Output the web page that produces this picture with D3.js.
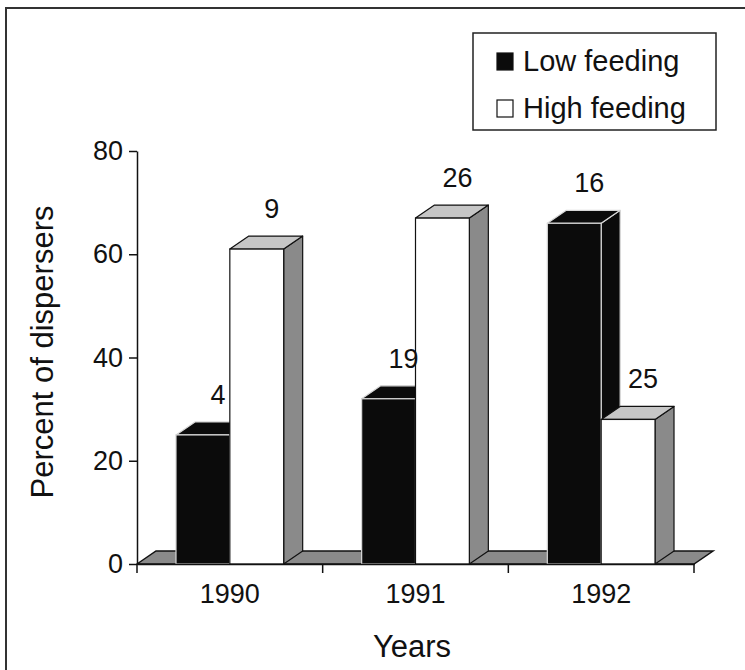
<!DOCTYPE html>
<html>
<head>
<meta charset="utf-8">
<script src="https://cdn.jsdelivr.net/npm/d3@7"></script>
<style>
  body { margin: 0; background: #fff; }
  svg { display: block; font-family: "Liberation Sans", Arial, sans-serif; }
</style>
</head>
<body>
<svg id="svgRoot" width="745" height="670"></svg>
<script>
// values
const years = ["1990", "1991", "1992"]
const seriesNames = ["Low feeding", "High feeding"]
const lowFeeding = [25, 32, 66]
const highFeeding = [61, 67, 28]
const lowN = [4, 19, 16]
const highN = [9, 26, 25]
const yTicks = [0, 20, 40, 60, 80]

let svg = d3.select("#svgRoot")

// 3d depth offset
const dx = 19
const dy = 13

let scale_y = d3.scaleLinear().domain([0, 80]).range([564, 151])
let scale_x = d3.scaleBand().domain(years).range([137, 694]).padding(0)
let bw = scale_x.bandwidth()
let scale_s = d3.scaleBand().domain(seriesNames).range([bw * 0.21, bw * 0.79]).padding(0)

let data = []
years.forEach((yr, i) => {
  data.push({ year: yr, series: "Low feeding", value: lowFeeding[i], n: lowN[i] })
  data.push({ year: yr, series: "High feeding", value: highFeeding[i], n: highN[i] })
})

// outer frame
svg.append("rect")
  .attr("x", 6).attr("y", 8)
  .attr("width", 800).attr("height", 800)
  .attr("fill", "none")
  .attr("stroke", "#333")
  .attr("stroke-width", 2)

// floor
let y0 = scale_y(0)
let xr = scale_x.range()
svg.append("polygon")
  .attr("points", [[xr[0], y0], [xr[0] + dx, y0 - dy], [xr[1] + dx, y0 - dy], [xr[1], y0]].join(" "))
  .attr("fill", "#8a8a8a")
  .attr("stroke", "#111")
  .attr("stroke-width", 1.5)

let colors = {
  "Low feeding": { front: "#0b0b0b", top: "#0b0b0b", side: "#0b0b0b", stroke: "#d8d8d8" },
  "High feeding": { front: "#ffffff", top: "#c6c6c6", side: "#8a8a8a", stroke: "#111" }
}

let barX = (d) => scale_x(d.year) + scale_s(d.series)

let g_bars = svg.append("g").attr("class", "g_bar")
let g_labels = svg.append("g").attr("class", "g_labels")

let bars = g_bars.selectAll(".bar").data(data).enter()
  .append("g").attr("class", "bar")

bars.each(function(d) {
  let g = d3.select(this)
  let x = barX(d)
  let w = scale_s.bandwidth()
  let yt = scale_y(d.value)
  let c = colors[d.series]
  g.append("polygon")
    .attr("points", [[x + w, yt], [x + w + dx, yt - dy], [x + w + dx, y0 - dy], [x + w, y0]].join(" "))
    .attr("fill", c.side).attr("stroke", c.stroke).attr("stroke-width", 1.2)
    .attr("stroke-linejoin", "round")
  g.append("polygon")
    .attr("points", [[x, yt], [x + dx, yt - dy], [x + w + dx, yt - dy], [x + w, yt]].join(" "))
    .attr("fill", c.top).attr("stroke", c.stroke).attr("stroke-width", 1.2)
    .attr("stroke-linejoin", "round")
  g.append("rect")
    .attr("x", x).attr("y", yt)
    .attr("width", w).attr("height", y0 - yt)
    .attr("fill", c.front).attr("stroke", c.stroke).attr("stroke-width", 1.2)
})

// sample sizes above the bars
g_labels.selectAll(".nLabel").data(data).enter()
  .append("text").attr("class", "nLabel")
  .attr("x", (d) => barX(d) + scale_s.bandwidth() / 2 + 15)
  .attr("y", (d) => scale_y(d.value) - dy - 18)
  .attr("text-anchor", "middle")
  .attr("font-size", "27px")
  .attr("fill", "#111")
  .text((d) => d.n)

// axes
let g_yAxis = svg.append("g").attr("class", "g_yAxis")
  .attr("transform", "translate(137, 0)")
  .call(d3.axisLeft(scale_y).tickValues(yTicks).tickSize(8).tickSizeOuter(0).tickPadding(6))
g_yAxis.attr("font-size", null).attr("font-family", null)
g_yAxis.selectAll("text").attr("font-size", "27px").attr("fill", "#111")
g_yAxis.selectAll("line, path").attr("stroke", "#111").attr("stroke-width", 1.5)

let g_xAxis = svg.append("g").attr("class", "g_xAxis")
  .attr("transform", "translate(0, " + y0 + ")")
  .call(d3.axisBottom(scale_x).tickSize(0).tickSizeOuter(0).tickPadding(20))
g_xAxis.attr("font-size", null).attr("font-family", null)
g_xAxis.selectAll("text").attr("font-size", "27px").attr("fill", "#111")
g_xAxis.select(".domain").attr("stroke", "#111").attr("stroke-width", 1.5)

// tick marks sit on category boundaries
let bounds = years.map((d) => scale_x(d)).concat([xr[1]])
g_xAxis.selectAll(".bound").data(bounds).enter()
  .append("line").attr("class", "bound")
  .attr("x1", (d) => d).attr("x2", (d) => d)
  .attr("y1", 0).attr("y2", 9)
  .attr("stroke", "#111").attr("stroke-width", 1.5)

// axis titles
svg.append("text")
  .attr("transform", "translate(53, 352) rotate(-90)")
  .attr("text-anchor", "middle")
  .attr("font-size", "31px")
  .attr("fill", "#111")
  .text("Percent of dispersers")

svg.append("text")
  .attr("x", 412).attr("y", 657)
  .attr("text-anchor", "middle")
  .attr("font-size", "31px")
  .attr("fill", "#111")
  .text("Years")

// legend
let g_legend = svg.append("g").attr("class", "g_legend")
g_legend.append("rect")
  .attr("x", 473).attr("y", 33)
  .attr("width", 243).attr("height", 97)
  .attr("fill", "#fff").attr("stroke", "#222").attr("stroke-width", 1.5)

let items = g_legend.selectAll(".item").data(seriesNames).enter()
  .append("g").attr("class", "item")
  .attr("transform", (d, i) => `translate(497, ${53 + i * 47})`)
items.append("rect")
  .attr("width", 16).attr("height", 17)
  .attr("fill", (d) => colors[d].front)
  .attr("stroke", "#111").attr("stroke-width", 1.2)
items.append("text")
  .attr("x", 26).attr("y", 18)
  .attr("font-size", "29px")
  .attr("fill", "#111")
  .text((d) => d)
</script>
</body>
</html>
